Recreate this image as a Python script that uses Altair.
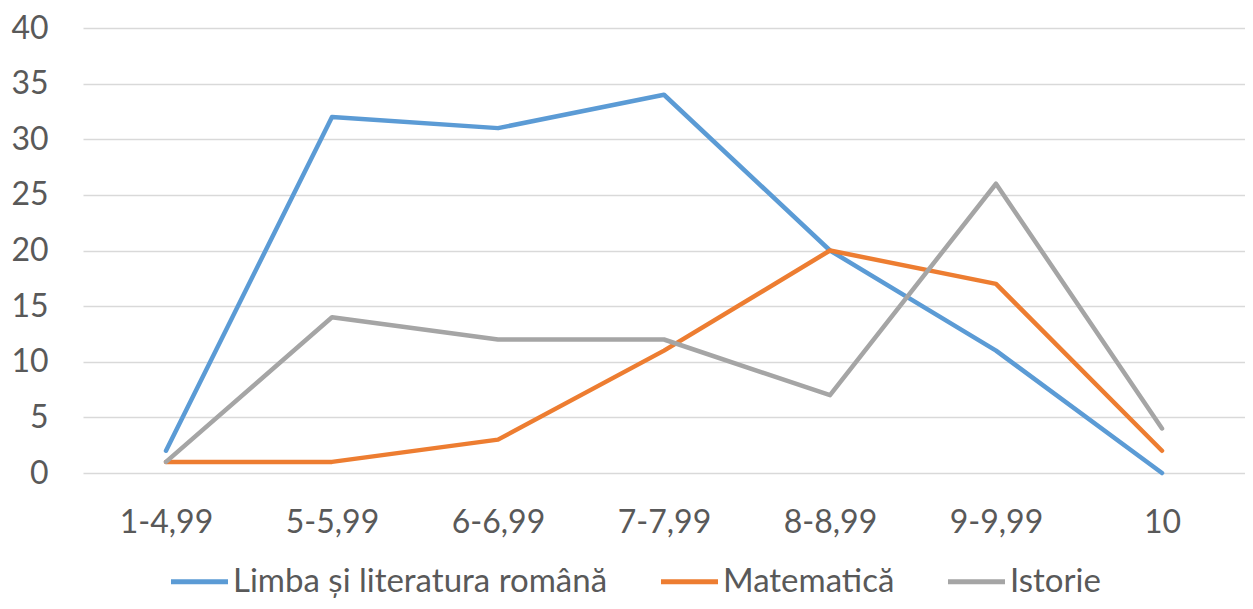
import altair as alt
import pandas as pd

categories = ["1-4,99", "5-5,99", "6-6,99", "7-7,99", "8-8,99", "9-9,99", "10"]
series_names = ["Limba și literatura română", "Matematică", "Istorie"]
limba = [2, 32, 31, 34, 20, 11, 0]
matematica = [1, 1, 3, 11, 20, 17, 2]
istorie = [1, 14, 12, 12, 7, 26, 4]
colors = ["#5B9BD5", "#ED7D31", "#A5A5A5"]
y_ticks = [0, 5, 10, 15, 20, 25, 30, 35, 40]

rows = []
for name, vals in zip(series_names, [limba, matematica, istorie]):
    for c, v in zip(categories, vals):
        rows.append({"Interval": c, "Serie": name, "Valoare": v})
df = pd.DataFrame(rows)

FONT = "Lato"
TXT = "#595959"
FS = 32

chart = alt.Chart(df).mark_line(strokeWidth=4.5, strokeCap="round", strokeJoin="round").encode(
    x=alt.X("Interval:N", sort=categories, title=None,
            scale=alt.Scale(type="point", padding=0.5),
            axis=alt.Axis(labelAngle=0, labelFontSize=FS, labelColor=TXT, labelFont=FONT,
                          ticks=False, domain=False, grid=False, labelPadding=34)),
    y=alt.Y("Valoare:Q", title=None,
            scale=alt.Scale(domain=[0, 40], nice=False),
            axis=alt.Axis(values=y_ticks, labelFontSize=FS, labelColor=TXT, labelFont=FONT,
                          ticks=False, domain=False, grid=True, gridColor="#D9D9D9",
                          gridWidth=1.5, labelPadding=35)),
    color=alt.Color("Serie:N", sort=series_names,
                    scale=alt.Scale(domain=series_names, range=colors),
                    legend=alt.Legend(title=None, orient="none", direction="horizontal",
                                      legendX=85, legendY=522,
                                      symbolType="stroke", symbolSize=3250, symbolStrokeWidth=5,
                                      labelFontSize=33, labelColor=TXT, labelFont=FONT,
                                      labelLimit=800, labelOffset=2, columnPadding=42)),
).properties(
    width=1162,
    height=445,
    padding={"left": 75, "top": 20, "right": 0, "bottom": 128},
    autosize=alt.AutoSizeParams(type="none"),
).configure_view(stroke=None)

chart.save("out.html", embed_options={"renderer": "svg", "actions": False})
